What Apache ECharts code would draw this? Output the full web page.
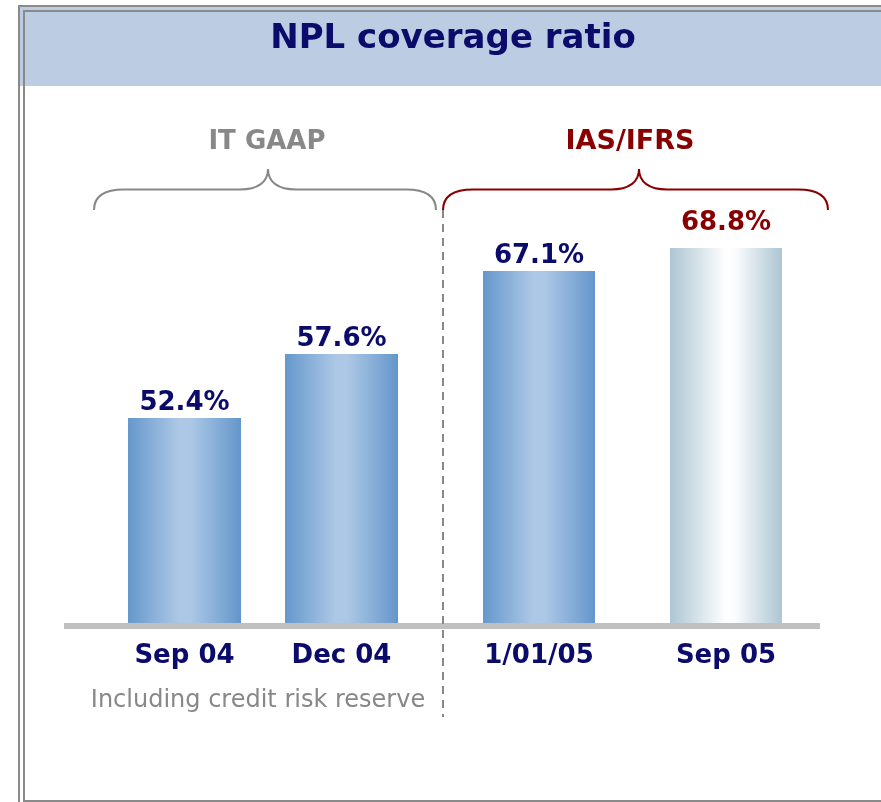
<!DOCTYPE html>
<html>
<head>
<meta charset="utf-8">
<script src="https://cdn.jsdelivr.net/npm/echarts@6/dist/echarts.min.js"></script>
<style>
  html, body { margin: 0; padding: 0; background: #fff; }
  #chart { width: 881px; height: 802px; }
</style>
</head>
<body>
<div id="chart"></div>
<script>
// 数据
var itCategories = ['Sep 04', 'Dec 04'];
var itValues = [52.4, 57.6];
var ifrsCategories = ['1/01/05', 'Sep 05'];
var ifrsValues = [67.1, 68.8];
var groupLabels = ['IT GAAP', 'IAS/IFRS'];
var chartTitle = 'NPL coverage ratio';
var footNote = 'Including credit risk reserve';

var navy = '#0b0b6b';
var darkRed = '#880000';
var font = 'DejaVu Sans';

var blueFill = new echarts.graphic.LinearGradient(0, 0, 1, 0, [
  { offset: 0, color: '#6598cc' },
  { offset: 0.45, color: '#adc8e6' },
  { offset: 0.55, color: '#adc8e6' },
  { offset: 1, color: '#6496cb' }
]);
var paleFill = new echarts.graphic.LinearGradient(0, 0, 1, 0, [
  { offset: 0, color: '#adc6d3' },
  { offset: 0.5, color: '#ffffff' },
  { offset: 0.58, color: '#fbfcfe' },
  { offset: 1, color: '#adc6d3' }
]);

function pct(p) { return p.value.toFixed(1) + '%'; }

// 大括号：两端下垂，中间尖角向上
function brace(xa, xt, xb, color) {
  var yEnd = 210, yMid = 189.5, yTip = 169, r = 30;
  var st = { stroke: color, lineWidth: 2, fill: null };
  return [
    { type: 'bezierCurve', silent: true, style: st,
      shape: { x1: xa, y1: yEnd, cpx1: xa, cpy1: 196, cpx2: xa + 10, cpy2: yMid, x2: xa + r, y2: yMid } },
    { type: 'line', silent: true, style: st,
      shape: { x1: xa + r, y1: yMid, x2: xt - 28, y2: yMid } },
    { type: 'bezierCurve', silent: true, style: st,
      shape: { x1: xt - 28, y1: yMid, cpx1: xt - 10, cpy1: yMid, cpx2: xt, cpy2: 182, x2: xt, y2: yTip } },
    { type: 'bezierCurve', silent: true, style: st,
      shape: { x1: xt, y1: yTip, cpx1: xt, cpy1: 182, cpx2: xt + 10, cpy2: yMid, x2: xt + 28, y2: yMid } },
    { type: 'line', silent: true, style: st,
      shape: { x1: xt + 28, y1: yMid, x2: xb - r, y2: yMid } },
    { type: 'bezierCurve', silent: true, style: st,
      shape: { x1: xb - r, y1: yMid, cpx1: xb - 10, cpy1: yMid, cpx2: xb, cpy2: 196, x2: xb, y2: yEnd } }
  ];
}

var valueLabel = {
  show: true,
  position: 'top',
  distance: 2,
  formatter: pct,
  color: navy,
  fontFamily: font,
  fontWeight: 'bold',
  fontSize: 26
};

var catLabel = {
  color: navy,
  fontFamily: font,
  fontWeight: 'bold',
  fontSize: 26,
  margin: 20
};

var myChart = echarts.init(document.getElementById('chart'));

var decorations = [
  // 标题栏
  { type: 'rect', silent: true, z: 0, shape: { x: 20, y: 7, width: 861, height: 79 },
    style: { fill: '#bccce2' } },
  // 外框
  { type: 'polyline', silent: true, shape: { points: [[19, 802], [19, 6], [881, 6]] },
    style: { stroke: '#8a8a8a', lineWidth: 2, fill: null } },
  { type: 'polyline', silent: true, shape: { points: [[881, 801], [24, 801], [24, 11], [881, 11]] },
    style: { stroke: '#8a8a8a', lineWidth: 2, fill: null } },
  { type: 'text', silent: true, x: 453, y: 39,
    style: { text: chartTitle, fill: navy, font: 'bold 34px "DejaVu Sans"',
      textAlign: 'center', textVerticalAlign: 'middle' } },
  // 分组标题
  { type: 'text', silent: true, x: 267, y: 142,
    style: { text: groupLabels[0], fill: '#888888', font: 'bold 26px "DejaVu Sans"',
      textAlign: 'center', textVerticalAlign: 'middle' } },
  { type: 'text', silent: true, x: 630, y: 142,
    style: { text: groupLabels[1], fill: darkRed, font: 'bold 27px "DejaVu Sans"',
      textAlign: 'center', textVerticalAlign: 'middle' } },
  // 横轴线
  { type: 'rect', silent: true, z: 10, shape: { x: 64, y: 623, width: 756, height: 6 },
    style: { fill: '#c0c0c0' } },
  // 分隔虚线
  { type: 'line', silent: true, z: 11, shape: { x1: 443, y1: 210, x2: 443, y2: 717 },
    style: { stroke: '#888888', lineWidth: 2, lineDash: [8, 6] } },
  // 注释
  { type: 'text', silent: true, x: 258, y: 701,
    style: { text: footNote, fill: '#888888', font: '24px "DejaVu Sans"',
      textAlign: 'center', textVerticalAlign: 'middle' } }
].concat(brace(94, 268, 436, '#888888'), brace(443, 639, 828, darkRed));

var option = {
  animation: false,
  backgroundColor: '#ffffff',
  grid: [
    { left: 106, width: 314, top: 223, bottom: 179 },
    { left: 445.5, width: 374, top: 223, bottom: 179 }
  ],
  xAxis: [
    { type: 'category', gridIndex: 0, data: itCategories,
      axisLine: { show: false }, axisTick: { show: false }, axisLabel: catLabel },
    { type: 'category', gridIndex: 1, data: ifrsCategories,
      axisLine: { show: false }, axisTick: { show: false }, axisLabel: catLabel }
  ],
  yAxis: [
    { type: 'value', gridIndex: 0, min: 35.75, max: 68.24, show: false, splitLine: { show: false } },
    { type: 'value', gridIndex: 1, min: 41, max: 70.65, show: false, splitLine: { show: false } }
  ],
  series: [
    {
      type: 'bar', xAxisIndex: 0, yAxisIndex: 0, barWidth: 113,
      itemStyle: { color: blueFill },
      label: valueLabel,
      data: itValues
    },
    {
      type: 'bar', xAxisIndex: 1, yAxisIndex: 1, barWidth: 112,
      label: valueLabel,
      data: [
        { value: ifrsValues[0], itemStyle: { color: blueFill } },
        { value: ifrsValues[1], itemStyle: { color: paleFill },
          label: { color: darkRed, distance: 12 } }
      ]
    }
  ],
  graphic: decorations
};

myChart.setOption(option);
</script>
</body>
</html>
